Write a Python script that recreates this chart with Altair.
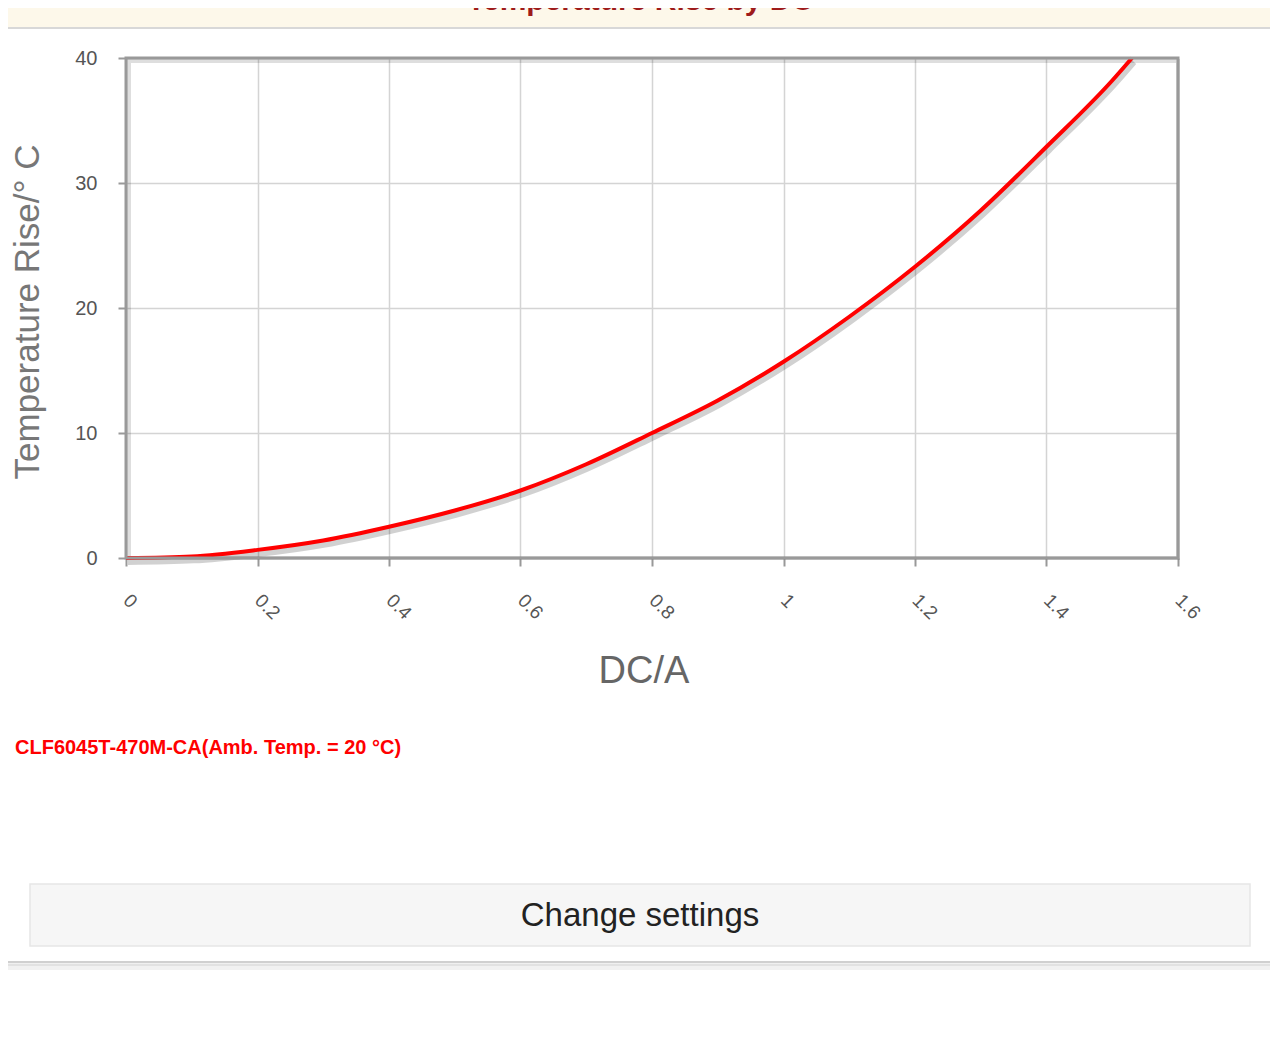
import altair as alt
import pandas as pd

# ---- data ----
dc_a = [0, 0.1, 0.2, 0.3, 0.4, 0.5, 0.6, 0.7, 0.8, 0.9, 1.0, 1.1, 1.2, 1.3, 1.4, 1.5, 1.53]
temp_rise = [0, 0.13, 0.65, 1.4, 2.5, 3.8, 5.4, 7.5, 10.0, 12.6, 15.7, 19.3, 23.3, 27.8, 32.9, 38.2, 40.0]
x_ticks = [0, 0.2, 0.4, 0.6, 0.8, 1.0, 1.2, 1.4, 1.6]
y_ticks = [0, 10, 20, 30, 40]
page_title = "Temperature Rise by DC"
x_title = "DC/A"
y_title = "Temperature Rise/° C"
legend_label = "CLF6045T-470M-CA(Amb. Temp. = 20 °C)"
button_label = "Change settings"

W, H = 1052, 500
FONT = "Liberation Sans"

df = pd.DataFrame({"dc": dc_a, "rise": temp_rise})
one = pd.DataFrame({"k": [0]})

base = alt.Chart(df).encode(
    x=alt.X("dc:Q", scale=alt.Scale(domain=[0, 1.6], nice=False, zero=False),
            axis=alt.Axis(values=x_ticks, format="~g", title=None, labelAngle=45,
                          labelAlign="left", labelBaseline="middle", labelFontSize=19,
                          labelColor="#555", labelPadding=31, tickSize=8, tickColor="#999",
                          tickWidth=2, domain=False, grid=True, gridColor="#d4d4d4",
                          gridWidth=1.5, labelFont=FONT)),
    y=alt.Y("rise:Q", scale=alt.Scale(domain=[0, 40], nice=False),
            axis=alt.Axis(values=y_ticks, title=None, labelFontSize=20, labelColor="#555",
                          labelPadding=21, tickSize=8, tickColor="#999", tickWidth=2,
                          domain=False, grid=True, gridColor="#d4d4d4", gridWidth=1.5,
                          labelFont=FONT)),
)

line_shadow = base.mark_line(color="#000", opacity=0.18, strokeWidth=6, xOffset=2,
                             yOffset=4, interpolate="monotone")
line = base.mark_line(color="#ff0000", strokeWidth=4, interpolate="monotone")

deco = alt.Chart(one)

header = deco.mark_rect(fill="#fdf8ea").encode(
    x=alt.value(-130), x2=alt.value(1160), y=alt.value(-60), y2=alt.value(-31))
header_rule = deco.mark_rule(color="#d8d8d8", strokeWidth=2).encode(
    x=alt.value(-130), x2=alt.value(1160), y=alt.value(-30))
title_txt = deco.mark_text(text=page_title, font=FONT, fontSize=30, fontWeight="bold",
                           color="#9e1b1b", align="center", baseline="alphabetic").encode(
    x=alt.value(514), y=alt.value(-48))

frame_shadow = deco.mark_rect(fill="transparent", stroke="#000", strokeOpacity=0.13,
                              strokeWidth=4, xOffset=3, yOffset=3).encode(
    x=alt.value(0), x2=alt.value(W), y=alt.value(0), y2=alt.value(H))
frame = deco.mark_rect(fill="transparent", stroke="#999", strokeWidth=3).encode(
    x=alt.value(0), x2=alt.value(W), y=alt.value(0), y2=alt.value(H))

ytitle = deco.mark_text(text=y_title, font=FONT, fontSize=35, color="#777", angle=270,
                        align="center", baseline="middle").encode(
    x=alt.value(-98), y=alt.value(254))
xtitle = deco.mark_text(text=x_title, font=FONT, fontSize=38, color="#666",
                        align="center", baseline="middle").encode(
    x=alt.value(518), y=alt.value(614))
legend_txt = deco.mark_text(text=legend_label, font=FONT, fontSize=20, fontWeight="bold",
                            color="#ff0000", align="left", baseline="alphabetic").encode(
    x=alt.value(-111), y=alt.value(696))

button = deco.mark_rect(fill="#f6f6f6", stroke="#e6e6e6", strokeWidth=1.5).encode(
    x=alt.value(-96), x2=alt.value(1124), y=alt.value(826), y2=alt.value(888))
button_txt = deco.mark_text(text=button_label, font=FONT, fontSize=33, color="#222",
                            align="center", baseline="middle").encode(
    x=alt.value(514), y=alt.value(858))

card_bottom = deco.mark_rule(color="#d0d0d0", strokeWidth=2).encode(
    x=alt.value(-130), x2=alt.value(1160), y=alt.value(904))
card_shadow1 = deco.mark_rule(color="#e2e2e2", strokeWidth=3).encode(
    x=alt.value(-130), x2=alt.value(1160), y=alt.value(907))
card_shadow2 = deco.mark_rule(color="#f1f1f1", strokeWidth=4).encode(
    x=alt.value(-130), x2=alt.value(1160), y=alt.value(910))

chart = alt.layer(
    header, header_rule, title_txt, frame_shadow, line_shadow, line, frame,
    ytitle, xtitle, legend_txt, button, button_txt, card_bottom, card_shadow1, card_shadow2,
).properties(
    width=W, height=H,
    padding={"left": 118, "top": 50, "right": 92, "bottom": 473},
    autosize=alt.AutoSizeParams(type="none"),
    background="white",
).configure_view(strokeWidth=0, fill="#fffdf5").configure(font=FONT)

chart.save("out.html", embed_options={"renderer": "svg", "actions": False})
